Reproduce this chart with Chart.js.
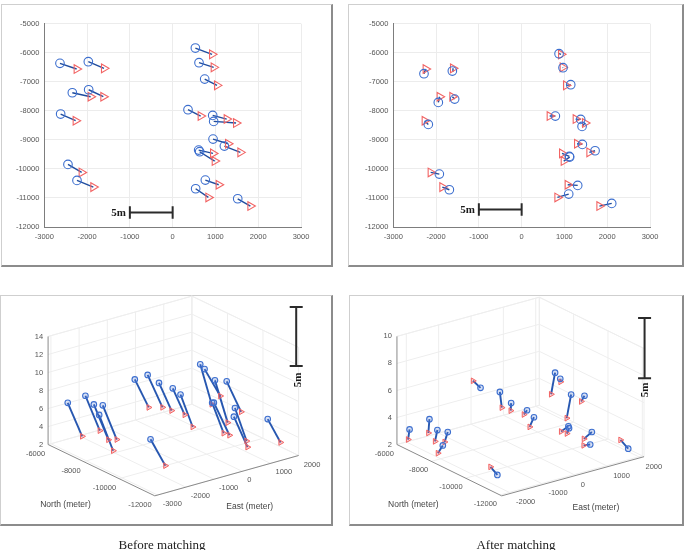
<!DOCTYPE html>
<html><head><meta charset="utf-8">
<script src="https://cdn.jsdelivr.net/npm/chart.js@4.4.1/dist/chart.umd.min.js"></script>
<style>
html,body{margin:0;padding:0;background:#fff}
body{width:688px;height:550px;position:relative;overflow:hidden;font-family:"Liberation Sans",Arial,sans-serif}
.frame{position:absolute;box-sizing:border-box;border:1px solid #cfcfcf;border-right:2px solid #8c8c8c;border-bottom:2px solid #8c8c8c}
canvas{position:absolute}
.cap{position:absolute;font-family:"Liberation Serif","Times New Roman",serif;font-size:13px;line-height:1;color:#222;transform:translate(-50%,-50%);white-space:nowrap}
</style></head><body>
<div class="frame" style="left:1px;top:4px;width:332px;height:263px"></div>
<div class="frame" style="left:348px;top:4px;width:336px;height:263px"></div>
<div class="frame" style="left:0px;top:295px;width:333px;height:231px"></div>
<div class="frame" style="left:349px;top:295px;width:335px;height:231px"></div>
<canvas id="c1" width="344" height="270" style="left:0px;top:0px"></canvas>
<canvas id="c2" width="344" height="270" style="left:344px;top:0px"></canvas>
<canvas id="c3" width="344" height="270" style="left:0px;top:280px"></canvas>
<canvas id="c4" width="344" height="270" style="left:344px;top:280px"></canvas>
<div class="cap" style="left:162px;top:544px">Before matching</div>
<div class="cap" style="left:516px;top:544px">After matching</div>
<script>
// ---------- data ----------
// reference points (red triangles)
const refEast  = [-2244,-1605,-1917,-1620,-2267,-2127,-1854,921,959,1037,655,1263,1482,1295,1583,944,983,1076,835,1817];
const refNorth = [-6561,-6538,-7515,-7515,-8341,-10121,-10626,-6056,-6504,-7124,-8180,-8284,-8421,-9133,-9431,-9466,-9729,-10545,-10982,-11280];
const refHeight = [2.69,2.74,2.93,2.69,2.8,9.17,2.94,2.65,2.68,2.73,2.72,4.8,5.66,3.54,4.77,2.99,2.98,3.03,2.98,2.92];
// points before matching (blue circles)
const beforeEast  = [-2634,-1971,-2345,-1963,-2618,-2447,-2236,531,616,749,359,936,959,944,1209,608,631,764,538,1521];
const beforeNorth = [-6366,-6309,-7377,-7274,-8111,-9845,-10396,-5838,-6343,-6906,-7962,-8157,-8364,-8972,-9213,-9351,-9408,-10385,-10683,-11028];
const beforeHeight = [6.57,6.72,7.1,6.56,6.86,12.3,5.99,6.39,5.9,5.72,6.38,9.41,9.05,8.39,8.28,6.55,6.6,6.82,6.34,5.53];
// points after matching (blue circles)
const afterEast  = [-2283,-1620,-1948,-1566,-2182,-1924,-1690,874,967,1147,788,1380,1412,1419,1716,1115,1123,1310,1100,2105];
const afterNorth = [-6722,-6630,-7710,-7595,-8467,-10178,-10718,-6033,-6515,-7101,-8180,-8295,-8536,-9156,-9374,-9569,-9592,-10568,-10867,-11188];
const afterHeight = [3.56,3.83,3.91,3.44,3.4,8.55,2.29,3.83,3.24,2.96,3.35,6.33,6.0,5.22,5.07,3.33,3.2,3.4,2.8,2.03];
// tick values
const eastTicks2D  = [-3000,-2000,-1000,0,1000,2000,3000];
const northTicks2D = [-12000,-11000,-10000,-9000,-8000,-7000,-6000,-5000];
const eastTicksBefore3D = [-3000,-2000,-1000,0,1000,2000];
const eastTicksAfter3D  = [-2000,-1000,0,1000,2000];
const northTicks3D = [-6000,-8000,-10000,-12000];
const heightTicksBefore = [2,4,6,8,10,12,14];
const heightTicksAfter  = [2,4,6,8,10];
// 5 m scale bars (data units of the plan views)
const scaleBarBefore = {label:'5m', x0:-1000, x1:0, y:-11500};
const scaleBarAfter  = {label:'5m', x0:-1000, x1:0, y:-11400};

// ---------- styles ----------
const BLUE_LINE='#1f4c9e', BLUE_MK='#3d6fcf', RED_MK='#f26464';
const TICK_FONT='"Liberation Sans", Arial, sans-serif';

// ---------- plan views ----------
function make2D(id, estE, estN, bar, area){
  const W=344,H=270;
  const vecs = estE.map((e,i)=>({data:[{x:e,y:estN[i]},{x:refEast[i],y:refNorth[i]}],
    showLine:true,borderColor:BLUE_LINE,borderWidth:1.4,pointRadius:0,order:3}));
  const circles = {data:estE.map((e,i)=>({x:e,y:estN[i]})),pointStyle:'circle',pointRadius:4.3,
    borderColor:BLUE_MK,pointBorderColor:BLUE_MK,pointBackgroundColor:'rgba(0,0,0,0)',pointBorderWidth:1.1,order:1};
  const tris = {data:refEast.map((e,i)=>({x:e,y:refNorth[i]})),pointStyle:'triangle',pointRotation:90,pointRadius:5,
    borderColor:RED_MK,pointBorderColor:RED_MK,pointBackgroundColor:'rgba(0,0,0,0)',pointBorderWidth:1.1,order:2};
  const barDs = {data:[{x:bar.x0,y:bar.y},{x:bar.x1,y:bar.y}],showLine:true,borderColor:'#2b2b2b',borderWidth:2,
    pointStyle:'line',pointRotation:90,pointRadius:6.3,pointBorderColor:'#2b2b2b',pointBorderWidth:2,order:0};
  const barLabel = {id:'barLabel',afterDatasetsDraw(chart){
    const {ctx,scales:{x,y}}=chart; ctx.save();
    ctx.font='bold 11px "Liberation Serif", "Times New Roman", serif'; ctx.fillStyle='#1a1a1a';
    ctx.textAlign='right'; ctx.textBaseline='middle';
    ctx.fillText(bar.label, x.getPixelForValue(bar.x0)-4, y.getPixelForValue(bar.y)+0.5);
    ctx.restore();}};
  new Chart(document.getElementById(id),{type:'scatter',
    data:{datasets:[barDs,circles,tris,...vecs]},
    plugins:[barLabel],
    options:{responsive:false,animation:false,events:[],
      layout:{padding:{left:0,top:area.top,right:W-area.right,bottom:H-area.bottom-20}},
      plugins:{legend:{display:false},tooltip:{enabled:false}},
      scales:{
        x:{type:'linear',min:-3000,max:3000,
          afterBuildTicks:s=>{s.ticks=eastTicks2D.map(v=>({value:v}));},
          afterFit:s=>{s.height=20;},
          ticks:{callback:v=>String(v),font:{size:7.5,family:TICK_FONT},color:'#555',padding:5,maxRotation:0,autoSkip:false},
          grid:{color:'#ececec',drawTicks:false},border:{color:'#7d7d7d'}},
        y:{type:'linear',min:-12000,max:-5000,
          afterBuildTicks:s=>{s.ticks=northTicks2D.map(v=>({value:v}));},
          afterFit:s=>{s.width=area.left;},
          ticks:{callback:v=>String(v),font:{size:7.5,family:TICK_FONT},color:'#555',padding:5,autoSkip:false},
          grid:{color:'#ececec',drawTicks:false},border:{color:'#7d7d7d'}}
      }}});
}
make2D('c1',beforeEast,beforeNorth,scaleBarBefore,{left:44.3,right:301,top:23.7,bottom:227});
make2D('c2',afterEast,afterNorth,scaleBarAfter,{left:49.3,right:306,top:23.7,bottom:227});

// ---------- 3-D views (orthographic projection, page pixel space) ----------
const viewBefore={ox:44.3,oy:445.7,eMin:-3100,eMax:2000,nMin:-12010,nMax:-6000,zMin:2,zMax:14,
  ex:0.02907,ey:-0.00822,nx:0.0183,ny:0.00887,zy:-9.36};
const viewAfter={ox:393.3,oy:445.7,eMin:-2290,eMax:2110,nMin:-12100,nMax:-6000,zMin:2,zMax:10,
  ex:0.03334,ey:-0.00925,nx:0.0177,ny:0.00874,zy:-14.05};

function make3D(id,left,top,v,estE,estN,estZ,eT,nT,zT,sb){
  const P=(e,n,z)=>({x:v.ox+(e-v.eMin)*v.ex+(v.nMax-n)*v.nx, y:v.oy+(e-v.eMin)*v.ey+(v.nMax-n)*v.ny+(z-v.zMin)*v.zy});
  const vecs=estE.map((e,i)=>({data:[P(e,estN[i],estZ[i]),P(refEast[i],refNorth[i],refHeight[i])],
    showLine:true,borderColor:'#2757b0',borderWidth:1.9,pointRadius:0,order:3}));
  const circles={data:estE.map((e,i)=>P(e,estN[i],estZ[i])),pointStyle:'circle',pointRadius:2.8,
    borderColor:BLUE_MK,pointBorderColor:BLUE_MK,pointBackgroundColor:'rgba(90,130,220,0.25)',pointBorderWidth:1.1,order:1};
  const tris={data:refEast.map((e,i)=>P(e,refNorth[i],refHeight[i])),pointStyle:'triangle',pointRotation:90,pointRadius:3.3,
    borderColor:RED_MK,pointBorderColor:RED_MK,pointBackgroundColor:'rgba(242,100,100,0.3)',pointBorderWidth:1,order:2};
  const box={id:'box3d',
    beforeDatasetsDraw(chart){
      const {ctx,scales:{x,y}}=chart;
      const px=p=>[x.getPixelForValue(p.x),y.getPixelForValue(p.y)];
      const seg=(a,b)=>{const A=px(P(...a)),B=px(P(...b));ctx.moveTo(A[0],A[1]);ctx.lineTo(B[0],B[1]);};
      ctx.save();
      ctx.strokeStyle='#eeeeee';ctx.lineWidth=1;ctx.beginPath();
      eT.forEach(e=>{seg([e,v.nMin,v.zMin],[e,v.nMax,v.zMin]);seg([e,v.nMax,v.zMin],[e,v.nMax,v.zMax]);});
      nT.forEach(n=>{seg([v.eMin,n,v.zMin],[v.eMax,n,v.zMin]);seg([v.eMax,n,v.zMin],[v.eMax,n,v.zMax]);});
      zT.forEach(z=>{seg([v.eMin,v.nMax,z],[v.eMax,v.nMax,z]);seg([v.eMax,v.nMin,z],[v.eMax,v.nMax,z]);});
      seg([v.eMax,v.nMax,v.zMin],[v.eMax,v.nMax,v.zMax]);
      seg([v.eMax,v.nMin,v.zMin],[v.eMax,v.nMin,v.zMax]);
      seg([v.eMax,v.nMin,v.zMax],[v.eMax,v.nMax,v.zMax]);
      seg([v.eMin,v.nMax,v.zMax],[v.eMax,v.nMax,v.zMax]);
      ctx.stroke();
      // axes
      ctx.strokeStyle='#8a8a8a';ctx.lineWidth=1;ctx.beginPath();
      seg([v.eMin,v.nMax,v.zMin],[v.eMin,v.nMax,v.zMax]);
      seg([v.eMin,v.nMax,v.zMin],[v.eMin,v.nMin,v.zMin]);
      seg([v.eMin,v.nMin,v.zMin],[v.eMax,v.nMin,v.zMin]);
      ctx.stroke();
      // tick labels
      ctx.fillStyle='#555';ctx.font='7.5px '+TICK_FONT;ctx.textBaseline='middle';
      ctx.textAlign='left';
      eT.forEach(e=>{const p=px(P(e,v.nMin,v.zMin));ctx.fillText(String(e),p[0]+5,p[1]+9);});
      ctx.textAlign='right';
      nT.forEach(n=>{const p=px(P(v.eMin,n,v.zMin));ctx.fillText(String(n),p[0]-3,p[1]+9);});
      zT.forEach(z=>{const p=px(P(v.eMin,v.nMax,z));ctx.fillText(String(z),p[0]-5,p[1]);});
      // axis titles
      ctx.fillStyle='#444';ctx.font='8.5px '+TICK_FONT;ctx.textAlign='center';
      const nm=px(P(v.eMin,(v.nMin+v.nMax)/2,v.zMin));ctx.fillText('North (meter)',nm[0]-36,nm[1]+34);
      const em=px(P((v.eMin+v.eMax)/2,v.nMin,v.zMin));ctx.fillText('East (meter)',em[0]+23,em[1]+31);
      ctx.restore();
    },
    afterDatasetsDraw(chart){
      const {ctx,scales:{x,y}}=chart;
      const X=x.getPixelForValue(sb.x),Y0=y.getPixelForValue(sb.y0),Y1=y.getPixelForValue(sb.y1);
      ctx.save();ctx.strokeStyle='#2b2b2b';ctx.lineWidth=2;ctx.beginPath();
      ctx.moveTo(X,Y0);ctx.lineTo(X,Y1);
      ctx.moveTo(X-6.5,Y0);ctx.lineTo(X+6.5,Y0);
      ctx.moveTo(X-6.5,Y1);ctx.lineTo(X+6.5,Y1);
      ctx.stroke();
      ctx.translate(x.getPixelForValue(sb.lx),y.getPixelForValue(sb.ly));ctx.rotate(-Math.PI/2);
      ctx.font='bold 11px "Liberation Serif", "Times New Roman", serif';ctx.fillStyle='#1a1a1a';
      ctx.textAlign='center';ctx.textBaseline='middle';ctx.fillText(sb.label,0,0);
      ctx.restore();
    }};
  new Chart(document.getElementById(id),{type:'scatter',
    data:{datasets:[circles,tris,...vecs]},
    plugins:[box],
    options:{responsive:false,animation:false,events:[],layout:{padding:0},
      plugins:{legend:{display:false},tooltip:{enabled:false}},
      scales:{x:{type:'linear',display:false,min:left,max:left+344},
              y:{type:'linear',display:false,min:top,max:top+270,reverse:true}}}});
}
make3D('c3',0,280,viewBefore,beforeEast,beforeNorth,beforeHeight,eastTicksBefore3D,northTicks3D,heightTicksBefore,
  {x:300,y0:302.7,y1:364,label:'5m',lx:301.7,ly:378.5});
make3D('c4',344,280,viewAfter,afterEast,afterNorth,afterHeight,eastTicksAfter3D,northTicks3D,heightTicksAfter,
  {x:648.5,y0:314.3,y1:376.7,label:'5m',lx:649,ly:389});
</script>
</body></html>
